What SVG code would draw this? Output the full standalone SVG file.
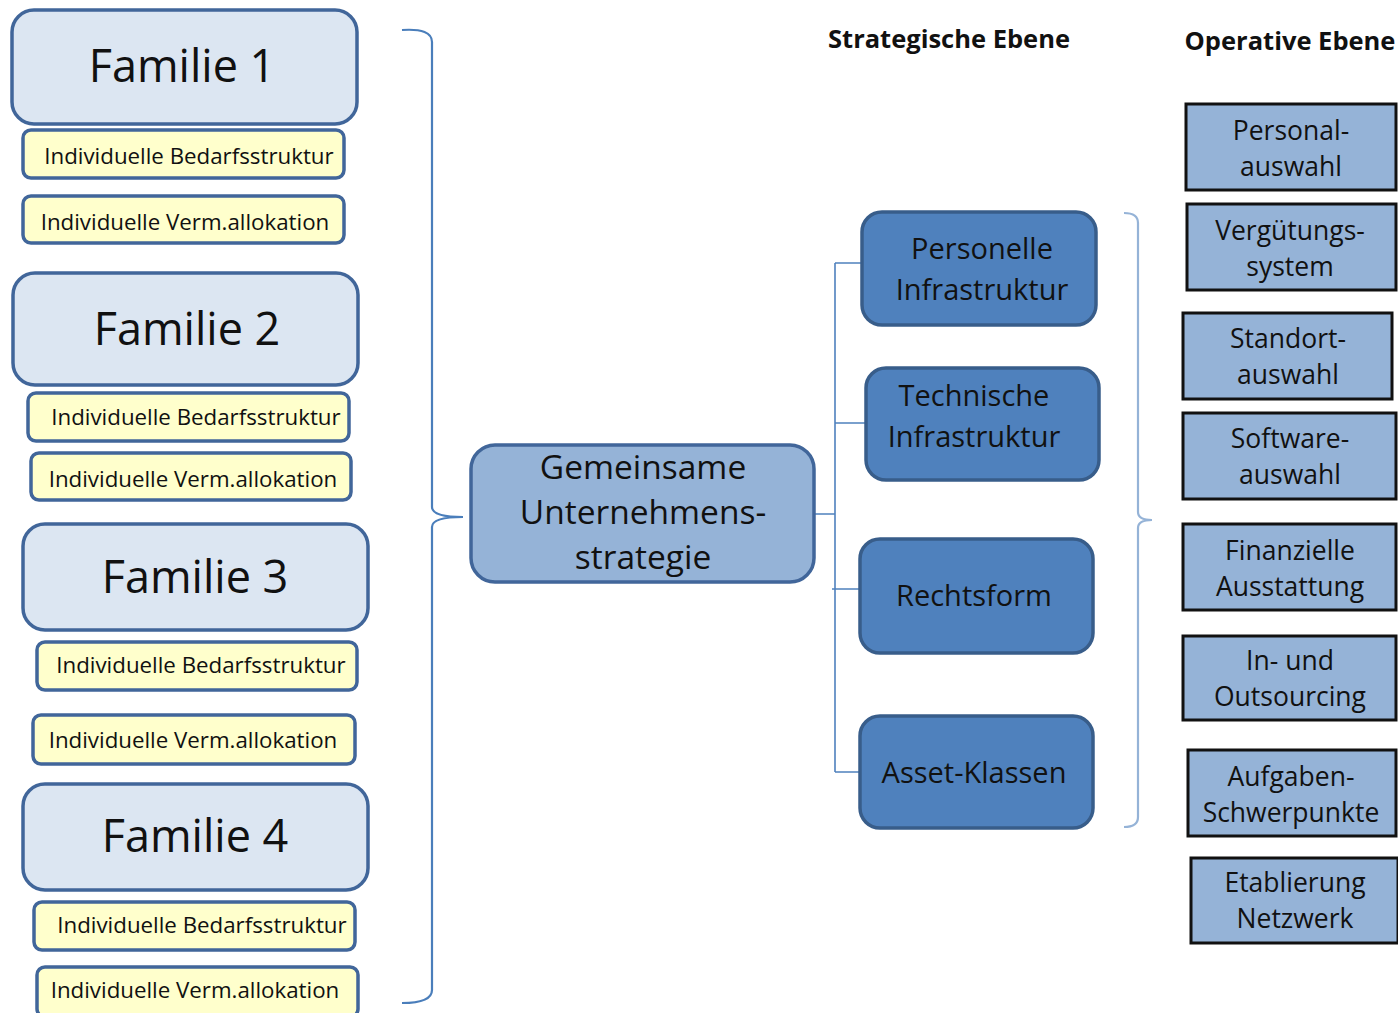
<svg xmlns="http://www.w3.org/2000/svg" width="1398" height="1013" viewBox="0 0 1398 1013">
<style>
text{font-family:"Open Sans","Noto Sans","Liberation Sans",sans-serif;fill:#111;text-anchor:middle}
.fam rect{fill:#dce6f2;stroke:#41669a;stroke-width:3.5}
.fam text{font-size:45px}
.ind rect{fill:#ffffcc;stroke:#41669a;stroke-width:3.5}
.ind text{font-size:22.3px}
.ctr rect{fill:#95b3d7;stroke:#41669a;stroke-width:3.5}
.ctr text{font-size:33.5px}
.str rect{fill:#4f81bd;stroke:#385d8a;stroke-width:3.5}
.str text{font-size:29px}
.op rect{fill:#95b3d7;stroke:#111;stroke-width:3}
.op text{font-size:26.5px}
.hd{font-weight:bold;font-size:25.5px}
.brace{fill:none;stroke:#4a7ebb;stroke-width:2.2}
.tree{fill:none;stroke:#4f81bd;stroke-width:1.6}
.brk{fill:none;stroke:#95b3d7;stroke-width:2.2}
</style>

<g id="connectors">
<path class="brace" d="M402,30 Q432,28 432,42 L432,507 Q432,517 463,517 Q432,517 432,527 L432,990 Q432,1003 402,1003"/>
<path class="tree" d="M814,514 H835 M835,263 V772 M835,263 H862 M835,423 H866 M832,589 H860 M835,772 H860"/>
<path class="brk" d="M1124,213 Q1138,213 1138,223 L1138,512 Q1138,520 1152,520 Q1138,520 1138,528 L1138,817 Q1138,827 1124,827"/>
</g>

<g id="headings">
<text class="hd" x="949" y="48">Strategische Ebene</text>
<text class="hd" x="1290" y="50">Operative Ebene</text>
</g>

<g id="familie1" class="fam"><rect x="12" y="10" width="345" height="114" rx="22"/><text x="182" y="82">Familie 1</text></g>
<g id="f1-bedarf" class="ind"><rect x="23" y="130" width="321" height="48" rx="8"/><text x="189" y="164">Individuelle Bedarfsstruktur</text></g>
<g id="f1-verm" class="ind"><rect x="23" y="196" width="321" height="47" rx="8"/><text x="185" y="230">Individuelle Verm.allokation</text></g>

<g id="familie2" class="fam"><rect x="13" y="273" width="345" height="112" rx="22"/><text x="187" y="345">Familie 2</text></g>
<g id="f2-bedarf" class="ind"><rect x="28" y="393" width="321" height="48" rx="8"/><text x="196" y="425">Individuelle Bedarfsstruktur</text></g>
<g id="f2-verm" class="ind"><rect x="31" y="453" width="320" height="47" rx="8"/><text x="193" y="487">Individuelle Verm.allokation</text></g>

<g id="familie3" class="fam"><rect x="23" y="524" width="345" height="106" rx="22"/><text x="195" y="593">Familie 3</text></g>
<g id="f3-bedarf" class="ind"><rect x="37" y="642" width="320" height="48" rx="8"/><text x="201" y="673">Individuelle Bedarfsstruktur</text></g>
<g id="f3-verm" class="ind"><rect x="33" y="715" width="322" height="49" rx="8"/><text x="193" y="748">Individuelle Verm.allokation</text></g>

<g id="familie4" class="fam"><rect x="23" y="784" width="345" height="106" rx="22"/><text x="195" y="852">Familie 4</text></g>
<g id="f4-bedarf" class="ind"><rect x="34" y="902" width="321" height="48" rx="8"/><text x="202" y="933">Individuelle Bedarfsstruktur</text></g>
<g id="f4-verm" class="ind"><rect x="37" y="967" width="321" height="50" rx="8"/><text x="195" y="998">Individuelle Verm.allokation</text></g>

<g id="strategie" class="ctr"><rect x="471" y="445" width="343" height="137" rx="24"/>
<text x="643" y="479">Gemeinsame</text><text x="643" y="524">Unternehmens-</text><text x="643" y="569">strategie</text></g>

<g id="personelle" class="str"><rect x="862" y="212" width="234" height="113" rx="20"/><text x="982" y="259">Personelle</text><text x="982" y="300">Infrastruktur</text></g>
<g id="technische" class="str"><rect x="866" y="368" width="233" height="112" rx="20"/><text x="974" y="406">Technische</text><text x="974" y="447">Infrastruktur</text></g>
<g id="rechtsform" class="str"><rect x="860" y="539" width="233" height="114" rx="20"/><text x="974" y="606">Rechtsform</text></g>
<g id="asset" class="str"><rect x="860" y="716" width="233" height="112" rx="20"/><text x="974" y="783">Asset-Klassen</text></g>

<g id="op1" class="op"><rect x="1186" y="104" width="210" height="86"/><text x="1291" y="140">Personal-</text><text x="1291" y="176">auswahl</text></g>
<g id="op2" class="op"><rect x="1187" y="204" width="209" height="86"/><text x="1290" y="240">Vergütungs-</text><text x="1290" y="276">system</text></g>
<g id="op3" class="op"><rect x="1183" y="313" width="209" height="86"/><text x="1288" y="348">Standort-</text><text x="1288" y="384">auswahl</text></g>
<g id="op4" class="op"><rect x="1183" y="413" width="213" height="86"/><text x="1290" y="448">Software-</text><text x="1290" y="484">auswahl</text></g>
<g id="op5" class="op"><rect x="1183" y="524" width="213" height="86"/><text x="1290" y="560">Finanzielle</text><text x="1290" y="596">Ausstattung</text></g>
<g id="op6" class="op"><rect x="1183" y="636" width="213" height="84"/><text x="1290" y="670">In- und</text><text x="1290" y="706">Outsourcing</text></g>
<g id="op7" class="op"><rect x="1188" y="750" width="208" height="86"/><text x="1291" y="786">Aufgaben-</text><text x="1291" y="822">Schwerpunkte</text></g>
<g id="op8" class="op"><rect x="1191" y="858" width="207" height="85"/><text x="1295" y="892">Etablierung</text><text x="1295" y="928">Netzwerk</text></g>
</svg>
